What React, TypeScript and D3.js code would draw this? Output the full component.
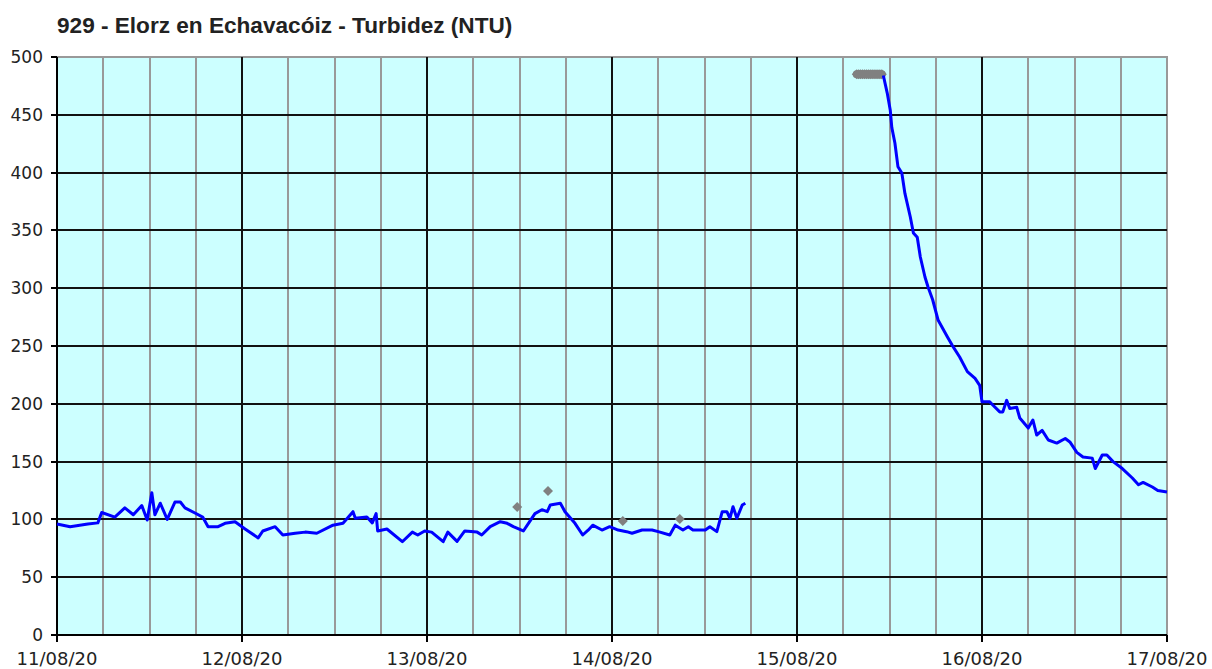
import React from 'react';
import * as d3 from 'd3';

const TITLE = '929 - Elorz en Echavacóiz - Turbidez (NTU)';

// hours since 11/08/20 00:00, NTU
const seriesBefore: [number, number][] = [
  [0, 96], [1.7, 93.7], [4.0, 96], [5.3, 97], [5.8, 106], [7.5, 102], [8.8, 110], [9.9, 104],
  [11.0, 112], [11.7, 99.5], [12.3, 123], [12.7, 104], [13.4, 114], [14.3, 100], [15.3, 115],
  [16.0, 115], [16.6, 110], [17.9, 105.5], [18.9, 102], [19.6, 93.7], [20.9, 93.7], [21.8, 96.6],
  [23.1, 98], [24.4, 91.7], [26.1, 84], [26.7, 90], [28.3, 93.7], [29.3, 86.5], [30.9, 88],
  [32.2, 89], [33.7, 88], [35.8, 95], [37.1, 96.6], [38.4, 106.7], [38.7, 101], [40.2, 102],
  [40.9, 97], [41.4, 105], [41.6, 90], [42.8, 91.7], [44.8, 80.7], [46.1, 89], [46.8, 86.5],
  [47.7, 90], [48.6, 89], [50.1, 80.7], [50.7, 89], [51.9, 81], [52.9, 90], [54.5, 89],
  [55.1, 86.5], [56.2, 93.7], [57.5, 98], [58.4, 96.6], [59.2, 93.7], [60.5, 90], [61.4, 99],
  [62.0, 105], [62.9, 108.4], [63.6, 106.7], [64.0, 112.5], [65.3, 114], [65.9, 106.7],
  [67.2, 96.6], [68.2, 86.5], [68.9, 90.7], [69.5, 95], [70.7, 90.8], [71.7, 93.7], [72.8, 90.8],
  [73.9, 89.4], [74.6, 88], [75.9, 90.8], [77.2, 90.8], [78.0, 89.4], [79.5, 86.5], [80.2, 95],
  [81.2, 90.8], [81.9, 93.7], [82.5, 90.8], [84.1, 90.8], [84.7, 93.7], [85.6, 89.4],
  [86.3, 106.7], [86.9, 106.7], [87.3, 101], [87.7, 111], [88.2, 101], [88.9, 112.5], [89.3, 114],
];

const seriesAfter: [number, number][] = [
  [107.2, 484], [107.7, 469], [108.1, 454], [108.3, 439], [108.7, 425.6], [109.1, 405],
  [109.6, 399.6], [110.0, 382], [110.7, 361.6], [111.1, 347.7], [111.6, 344], [112.0, 327],
  [112.6, 309.7], [113.0, 301], [113.6, 290], [114.3, 272.5], [115.5, 258], [116.1, 251],
  [117.1, 240.5], [118.1, 227.8], [119.1, 222], [119.7, 216], [120.0, 201.8], [121.0, 201.8],
  [121.4, 199], [122.3, 193], [122.7, 193], [123.2, 203], [123.6, 196], [124.5, 197],
  [124.9, 187.7], [126.0, 179], [126.6, 186], [127.1, 173], [127.8, 177], [128.6, 168.7],
  [129.7, 166], [130.8, 170], [131.4, 167], [132.3, 158], [133.1, 154], [134.3, 153],
  [134.7, 144], [135.6, 155.7], [136.2, 155.7], [137.0, 150], [138.2, 144], [139.5, 135.8],
  [140.3, 130], [140.9, 132], [142.1, 128], [142.8, 125], [144.0, 123.7],
];

// grey (invalid / out of range) readings
const greyPoints: [number, number][] = [
  [59.7, 110.7], [63.7, 124.6], [73.4, 98.6], [80.8, 100.3],
];
const greyRun: [number, number][] = [
  [103.75, 485], [104.0, 485], [104.25, 485], [104.5, 485], [104.75, 485], [105.0, 485],
  [105.25, 485], [105.5, 485], [105.75, 485], [106.0, 485], [106.25, 485], [106.5, 485],
  [106.75, 485], [107.0, 485],
];

const dayLabels = ['11/08/20', '12/08/20', '13/08/20', '14/08/20', '15/08/20', '16/08/20', '17/08/20'];
const yTicks = [0, 50, 100, 150, 200, 250, 300, 350, 400, 450, 500];

const MARGIN = { top: 57, right: 45, bottom: 34, left: 57 };

const App = () => {
  const width = 1212;
  const height = 669;
  const x = d3.scaleLinear().domain([0, 144]).range([MARGIN.left, width - MARGIN.right]);
  const y = d3.scaleLinear().domain([0, 500]).range([height - MARGIN.bottom, MARGIN.top]);

  const line = d3.line<[number, number]>().x((d) => x(d[0])).y((d) => y(d[1]));
  const minorHours = d3.range(6, 144, 6).filter((h) => h % 24 !== 0);
  const x0 = x(0), x1 = x(144), yb = y(0), yt = y(500);
  const diamond = d3.symbol(d3.symbolDiamond2, 64)() ?? '';

  return (
    <svg width={width} height={height} style={{ position: 'absolute', left: 0, top: 0 }}>
      <rect width={width} height={height} fill="#fff" />
      <text x={57} y={33} fontFamily="Liberation Sans, Arial, sans-serif" fontWeight="bold" fontSize={22.6} fill="#222">
        {TITLE}
      </text>
      <rect x={x0} y={yt} width={x1 - x0} height={yb - yt} fill="#ccffff" stroke="#999" strokeWidth={2} />
      <g shapeRendering="crispEdges">
        {minorHours.map((h) => (
          <line key={h} x1={x(h)} x2={x(h)} y1={yt} y2={yb} stroke="#999" strokeWidth={2} />
        ))}
        {yTicks.slice(1, -1).map((v) => (
          <line key={v} x1={x0} x2={x1} y1={y(v)} y2={y(v)} stroke="#111" strokeWidth={2} />
        ))}
        {dayLabels.slice(1, -1).map((_, i) => (
          <line key={i} x1={x((i + 1) * 24)} x2={x((i + 1) * 24)} y1={yt} y2={yb} stroke="#111" strokeWidth={2} />
        ))}
        <line x1={x0} x2={x0} y1={yt} y2={yb} stroke="#000" strokeWidth={2} />
        <line x1={x0} x2={x1} y1={yb} y2={yb} stroke="#000" strokeWidth={2} />
        {yTicks.map((v) => (
          <line key={v} x1={x0 - 6} x2={x0} y1={y(v)} y2={y(v)} stroke="#000" strokeWidth={2} />
        ))}
        {dayLabels.map((_, i) => (
          <line key={i} x1={x(i * 24)} x2={x(i * 24)} y1={yb} y2={yb + 7} stroke="#000" strokeWidth={2} />
        ))}
      </g>
      {greyPoints.concat(greyRun).map(([h, v], i) => (
        <path key={i} d={diamond} transform={`translate(${x(h)},${y(v)})`} fill="#808080" />
      ))}
      <path d={line(greyRun) ?? ''} fill="none" stroke="#808080" strokeWidth={8} strokeLinecap="round" />
      <path d={line(seriesBefore) ?? ''} fill="none" stroke="#0000ff" strokeWidth={3} strokeLinejoin="round" />
      <path d={line(seriesAfter) ?? ''} fill="none" stroke="#0000ff" strokeWidth={3} strokeLinejoin="round" />
      <g fontFamily="DejaVu Sans, Verdana, sans-serif" fill="#222">
        {yTicks.map((v) => (
          <text key={v} x={x0 - 14} y={y(v)} textAnchor="end" dominantBaseline="central" fontSize={17}>
            {v}
          </text>
        ))}
        {dayLabels.map((d, i) => (
          <text key={d} x={x(i * 24)} y={665} textAnchor="middle" fontSize={18}>
            {d}
          </text>
        ))}
      </g>
    </svg>
  );
};

export default App;
